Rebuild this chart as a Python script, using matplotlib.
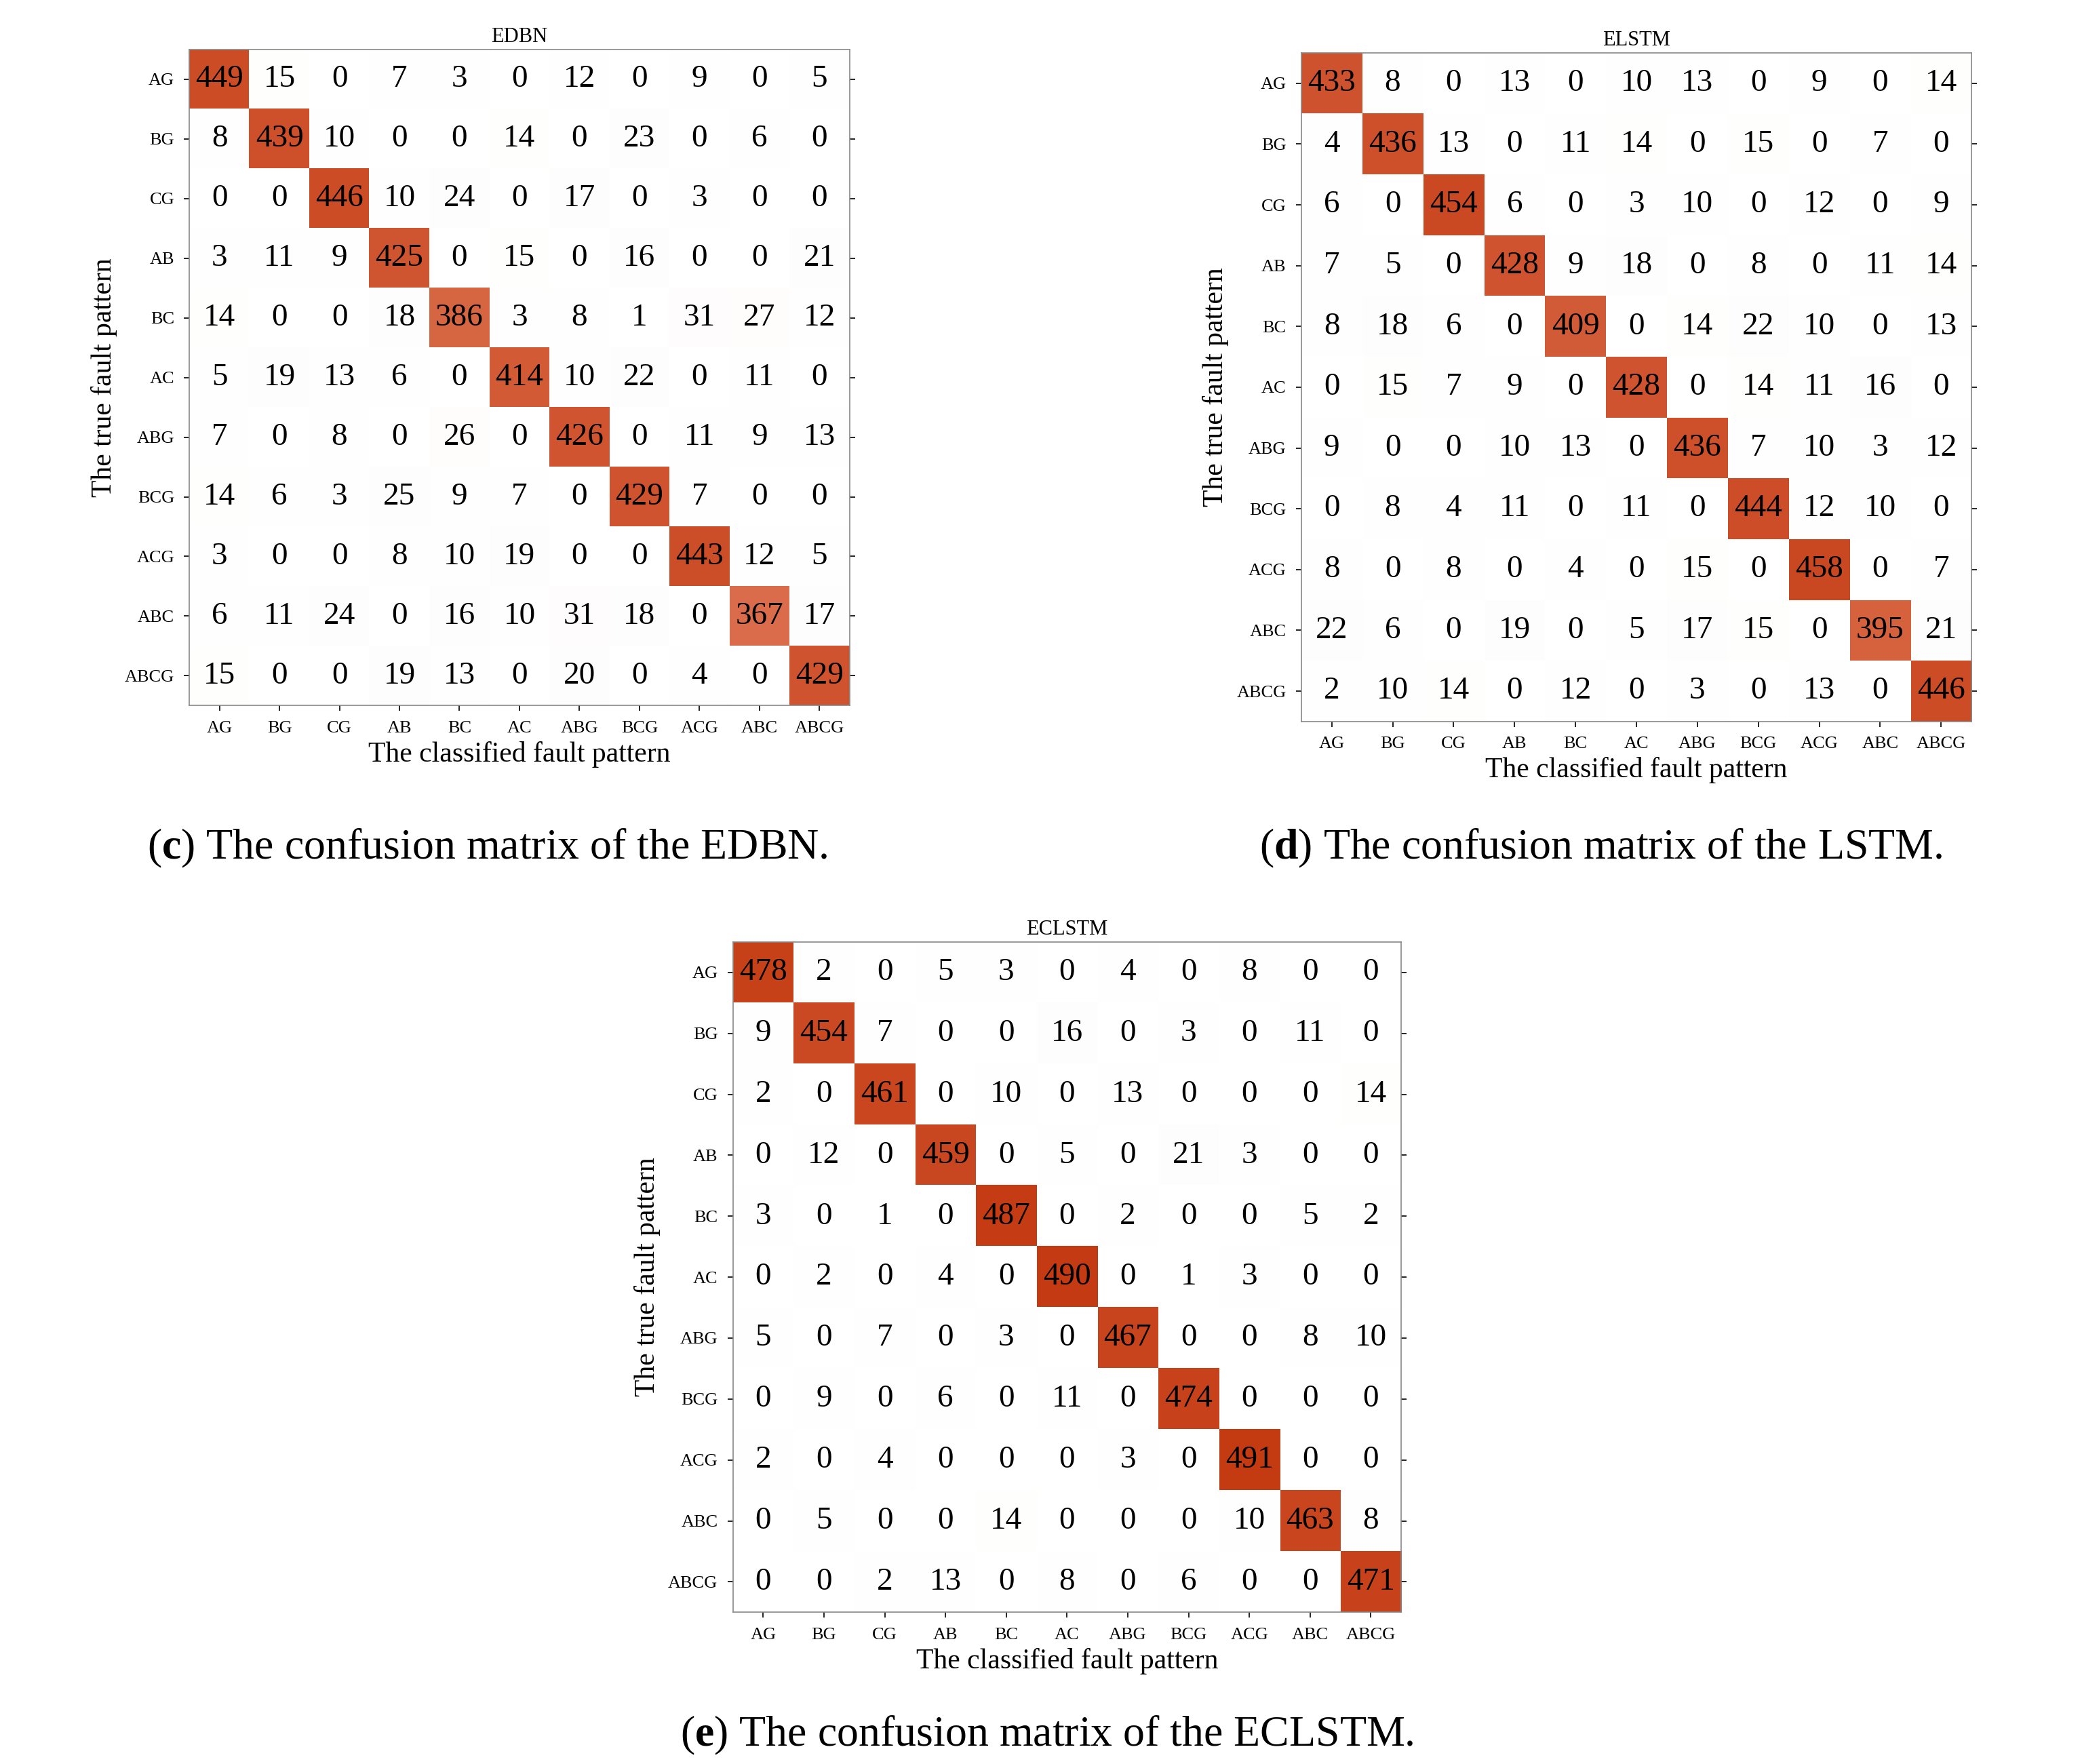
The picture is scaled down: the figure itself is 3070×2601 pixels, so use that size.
import numpy as np
import matplotlib
matplotlib.use("Agg")
import matplotlib.pyplot as plt
from matplotlib.colors import LinearSegmentedColormap

plt.rcParams['font.family'] = ['Liberation Serif', 'DejaVu Serif']
plt.rcParams['mathtext.fontset'] = 'custom'
plt.rcParams['mathtext.rm'] = 'Liberation Serif'
plt.rcParams['mathtext.bf'] = 'Liberation Serif:bold'

labels = ["AG", "BG", "CG", "AB", "BC", "AC", "ABG", "BCG", "ACG", "ABC", "ABCG"]

edbn = [
    [449, 15, 0, 7, 3, 0, 12, 0, 9, 0, 5],
    [8, 439, 10, 0, 0, 14, 0, 23, 0, 6, 0],
    [0, 0, 446, 10, 24, 0, 17, 0, 3, 0, 0],
    [3, 11, 9, 425, 0, 15, 0, 16, 0, 0, 21],
    [14, 0, 0, 18, 386, 3, 8, 1, 31, 27, 12],
    [5, 19, 13, 6, 0, 414, 10, 22, 0, 11, 0],
    [7, 0, 8, 0, 26, 0, 426, 0, 11, 9, 13],
    [14, 6, 3, 25, 9, 7, 0, 429, 7, 0, 0],
    [3, 0, 0, 8, 10, 19, 0, 0, 443, 12, 5],
    [6, 11, 24, 0, 16, 10, 31, 18, 0, 367, 17],
    [15, 0, 0, 19, 13, 0, 20, 0, 4, 0, 429],
]
elstm = [
    [433, 8, 0, 13, 0, 10, 13, 0, 9, 0, 14],
    [4, 436, 13, 0, 11, 14, 0, 15, 0, 7, 0],
    [6, 0, 454, 6, 0, 3, 10, 0, 12, 0, 9],
    [7, 5, 0, 428, 9, 18, 0, 8, 0, 11, 14],
    [8, 18, 6, 0, 409, 0, 14, 22, 10, 0, 13],
    [0, 15, 7, 9, 0, 428, 0, 14, 11, 16, 0],
    [9, 0, 0, 10, 13, 0, 436, 7, 10, 3, 12],
    [0, 8, 4, 11, 0, 11, 0, 444, 12, 10, 0],
    [8, 0, 8, 0, 4, 0, 15, 0, 458, 0, 7],
    [22, 6, 0, 19, 0, 5, 17, 15, 0, 395, 21],
    [2, 10, 14, 0, 12, 0, 3, 0, 13, 0, 446],
]
eclstm = [
    [478, 2, 0, 5, 3, 0, 4, 0, 8, 0, 0],
    [9, 454, 7, 0, 0, 16, 0, 3, 0, 11, 0],
    [2, 0, 461, 0, 10, 0, 13, 0, 0, 0, 14],
    [0, 12, 0, 459, 0, 5, 0, 21, 3, 0, 0],
    [3, 0, 1, 0, 487, 0, 2, 0, 0, 5, 2],
    [0, 2, 0, 4, 0, 490, 0, 1, 3, 0, 0],
    [5, 0, 7, 0, 3, 0, 467, 0, 0, 8, 10],
    [0, 9, 0, 6, 0, 11, 0, 474, 0, 0, 0],
    [2, 0, 4, 0, 0, 0, 3, 0, 491, 0, 0],
    [0, 5, 0, 0, 14, 0, 0, 0, 10, 463, 8],
    [0, 0, 2, 13, 0, 8, 0, 6, 0, 0, 471],
]

cmap = LinearSegmentedColormap.from_list("cm", ["#ffffff", "#fdf3f1", "#e07a5a", "#c3380f"], N=256)

fig = plt.figure(figsize=(30.7, 26.01), dpi=100)

def panel(rect, data, title):
    ax = fig.add_axes(rect)
    m = np.array(data, dtype=float)
    ax.imshow(m, cmap=cmap, vmin=0, vmax=500, aspect='auto')
    for i in range(m.shape[0]):
        for j in range(m.shape[1]):
            ax.text(j, i, f"{int(m[i, j])}", ha='center', va='center', fontsize=34, color='black')
    ax.set_xticks(range(11))
    ax.set_yticks(range(11))
    ax.set_xticklabels(labels, fontsize=19)
    ax.set_yticklabels(labels, fontsize=19)
    ax.tick_params(axis='both', length=6, width=1.2, pad=10, top=False, right=True, direction='out')
    ax.tick_params(axis='y', which='both', right=True)
    for s in ax.spines.values():
        s.set_linewidth(1.2)
        s.set_color('#888888')
    ax.set_title(title, fontsize=22, pad=8)
    ax.set_xlabel("The classified fault pattern", fontsize=30, labelpad=6)
    ax.set_ylabel("The true fault pattern", fontsize=30, labelpad=8)
    return ax

panel([0.091, 0.600, 0.317, 0.372], edbn, "EDBN")
panel([0.625, 0.591, 0.322, 0.379], elstm, "ELSTM")
panel([0.352, 0.086, 0.321, 0.380], eclstm, "ECLSTM")

fig.text(0.234, 0.519, r"($\mathbf{c}$) The confusion matrix of the EDBN.", ha='center', va='center', fontsize=46)
fig.text(0.769, 0.519, r"($\mathbf{d}$) The confusion matrix of the LSTM.", ha='center', va='center', fontsize=46)
fig.text(0.503, 0.016, r"($\mathbf{e}$) The confusion matrix of the ECLSTM.", ha='center', va='center', fontsize=46)

fig.savefig("out.png", dpi=100)
